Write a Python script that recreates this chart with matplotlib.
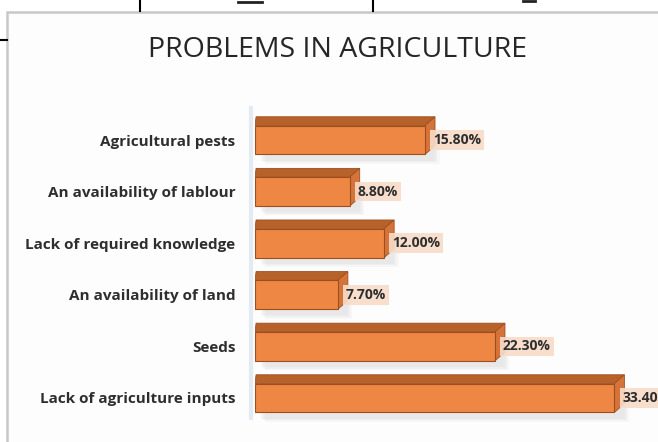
"""
Problems in agriculture - 3D style horizontal bar chart.
"""

import matplotlib
matplotlib.use("Agg")
import matplotlib.pyplot as plt
from matplotlib.patches import Polygon, Rectangle
from matplotlib.lines import Line2D

categories = [
    "Lack of agriculture inputs",
    "Seeds",
    "An availability of land",
    "Lack of required knowledge",
    "An availability of lablour",
    "Agricultural pests",
]
values = [33.4, 22.3, 7.7, 12.0, 8.8, 15.8]
value_labels = ["33.40%", "22.30%", "7.70%", "12.00%", "8.80%", "15.80%"]
title = "PROBLEMS IN AGRICULTURE"

W, H = 658, 442
FRONT = "#EE8743"
TOP = "#B8622B"
SIDE = "#D5743A"
EDGE = "#9E4E1E"

fig = plt.figure(figsize=(W / 100, H / 100), dpi=100)
fig.patch.set_facecolor("white")

# page decorations (table lines + chart frame) in pixel coords
deco = fig.add_axes([0, 0, 1, 1])
deco.set_xlim(0, W)
deco.set_ylim(H, 0)
deco.axis("off")
deco.add_patch(Rectangle((7, 12), W, H, facecolor="#FDFDFD", edgecolor="#C8C8C8", lw=1.8))
deco.add_line(Line2D([140, 140], [0, 11], color="black", lw=1.5))
deco.add_line(Line2D([373, 373], [0, 11], color="black", lw=1.5))
deco.add_line(Line2D([0, 7], [40, 40], color="black", lw=1.5))
deco.add_line(Line2D([238, 262], [2, 2], color="#222222", lw=2))
deco.add_line(Line2D([523, 535], [1, 1], color="#222222", lw=2))
deco.add_line(Line2D([251, 251], [108, 418], color="#E3EAF2", lw=3))
deco.text(337, 50, title, ha="center", va="center", fontsize=20.5,
          family="Open Sans", color="#262626")

# chart axes: x=0 at px 255, 10.76 px per unit; category i centre at 398-51.6*i
px_unit = 10.76
x_max = (W - 255) / px_unit
step = 51.6
y_lo, y_hi = -0.8, 5.8
ax_bottom_px = 398 + (-y_lo) * step
ax_top_px = 398 - y_hi * step
ax = fig.add_axes([255 / W, (H - ax_bottom_px) / H, (W - 255) / W,
                   (ax_bottom_px - ax_top_px) / H])
ax.set_xlim(0, x_max)
ax.set_ylim(y_lo, y_hi)
ax.patch.set_alpha(0)
for s in ax.spines.values():
    s.set_visible(False)
ax.set_xticks([])
ax.set_yticks(range(len(categories)))
ax.set_yticklabels(categories, fontsize=11, fontweight="bold",
                   family="Open Sans", color="#2E2E2E")
ax.tick_params(axis="y", length=0, pad=14)

half = 0.28
depth_y = 0.17
depth_x = 0.93

for i, v in enumerate(values):
    yb, yt = i - half, i + half
    # soft shadow
    for k, a in enumerate([0.06, 0.06, 0.05]):
        off = 0.25 + 0.2 * k
        ax.add_patch(Rectangle((0.3 + off, yb - 0.12 - 0.03 * k), v + 0.4, 2 * half,
                               facecolor="#7F7F7F", alpha=a, lw=0, zorder=1))
    # top face
    ax.add_patch(Polygon([(0, yt), (v, yt), (v + depth_x, yt + depth_y), (0.1, yt + depth_y)],
                         closed=True, facecolor=TOP, edgecolor=EDGE, lw=0.6, zorder=3))
    # right side face
    ax.add_patch(Polygon([(v, yb), (v, yt), (v + depth_x, yt + depth_y), (v + depth_x, yb + depth_y)],
                         closed=True, facecolor=SIDE, edgecolor=EDGE, lw=0.6, zorder=3))
    # front face
    ax.barh(i, v, height=2 * half, color=FRONT, edgecolor=EDGE, lw=0.8, zorder=4)
    ax.text(v + 0.75, i, value_labels[i], ha="left", va="center", fontsize=10,
            fontweight="bold", family="Open Sans", color="#2E2E2E", zorder=6,
            clip_on=False,
            bbox=dict(boxstyle="square,pad=0.2", facecolor="#F8DCC8",
                      edgecolor="none", alpha=0.9))

fig.savefig("out.png", dpi=100)
